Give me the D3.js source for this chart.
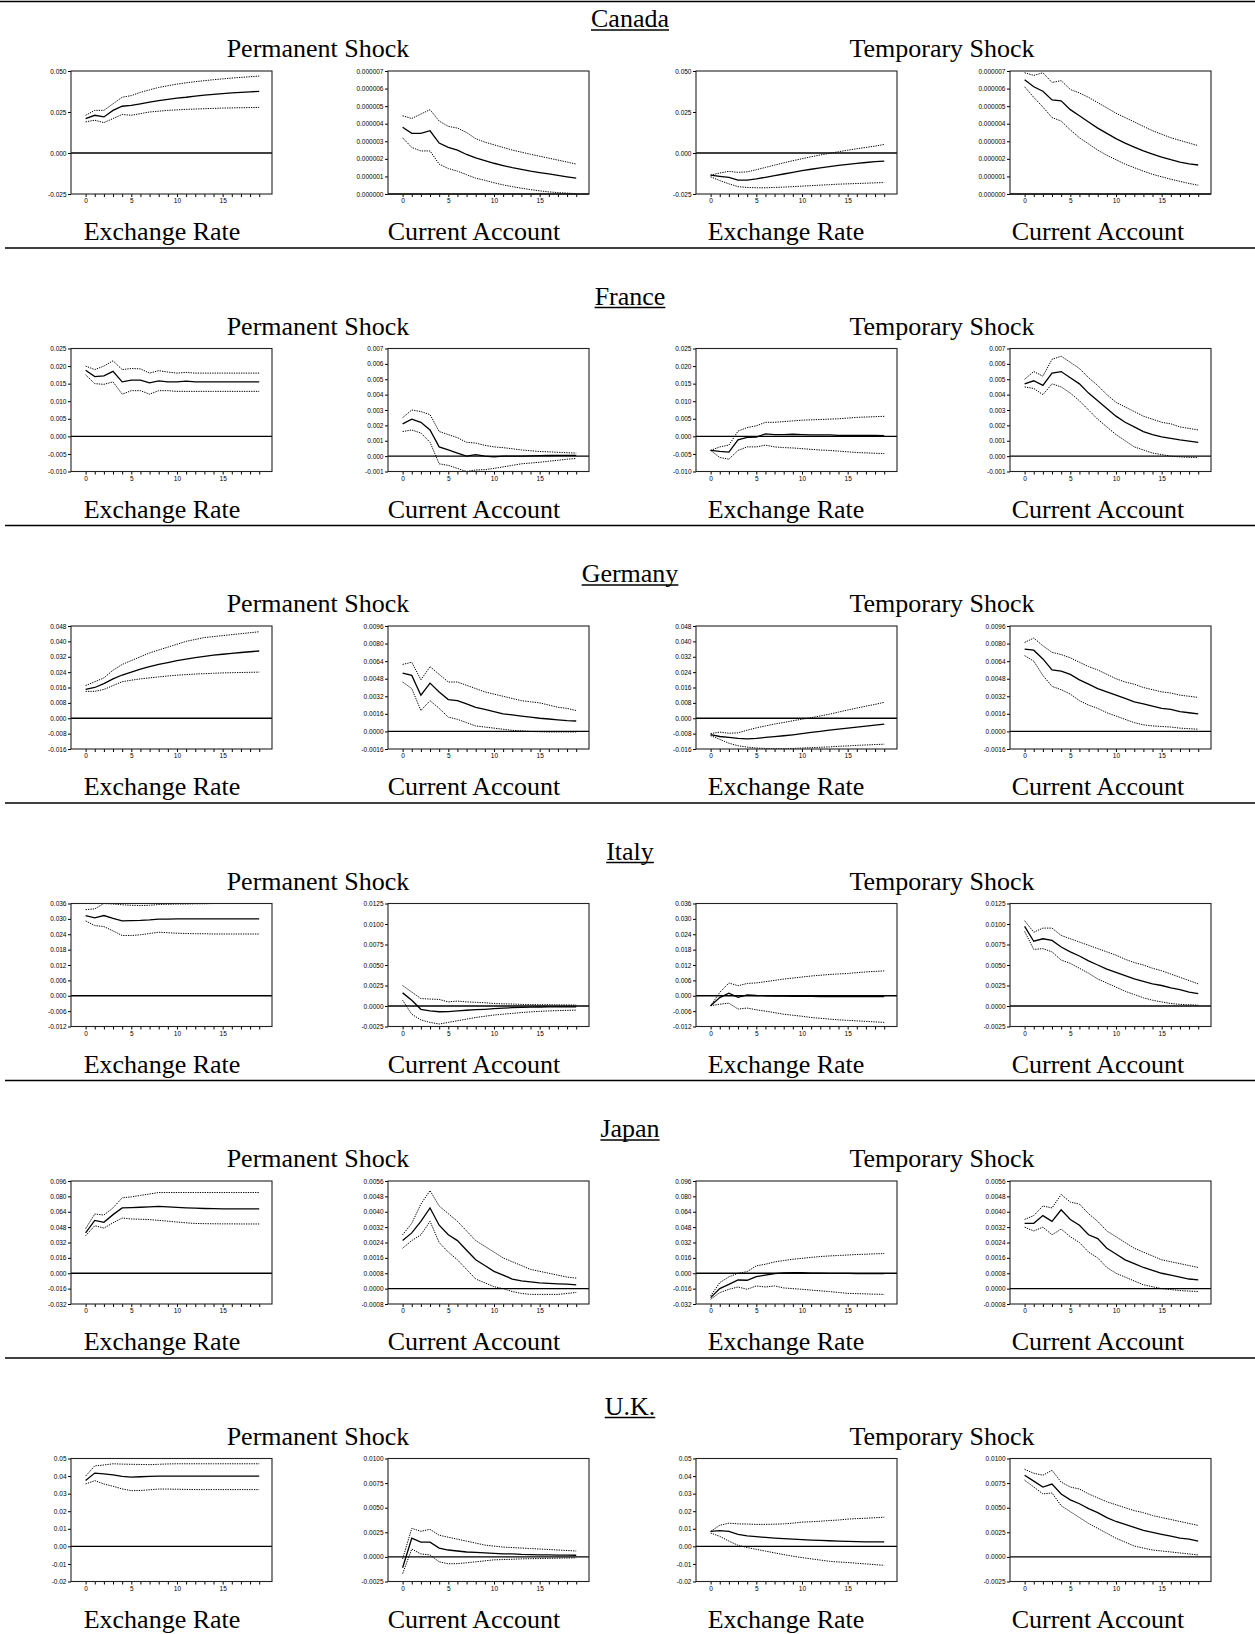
<!DOCTYPE html>
<html lang="en">
<head>
<meta charset="UTF-8">
<title>Impulse responses</title>
<script src="https://d3js.org/d3.v7.min.js"></script>
<style>
  body { margin: 0; background: #fff; }
  .big { font-family: "Liberation Serif", "Times New Roman", serif; font-size: 26px; fill: #000; }
  .tick text { font-family: "Liberation Sans", Arial, sans-serif; font-size: 6.5px; fill: #000; }
</style>
</head>
<body>
<div id="figure"></div>
<script>
const countries = ["Canada", "France", "Germany", "Italy", "Japan", "U.K."];
const shocks = ["Permanent Shock", "Temporary Shock"];
const variables = ["Exchange Rate", "Current Account"];
const horizons = [0, 1, 2, 3, 4, 5, 6, 7, 8, 9, 10, 11, 12, 13, 14, 15, 16, 17, 18, 19];
const xTickLabels = ["0", "5", "10", "15"];

// y tick labels, exchange rate / current account, per country
const canadaErTicks = ["-0.025", "0.000", "0.025", "0.050"];
const canadaCaTicks = ["0.000000", "0.000001", "0.000002", "0.000003", "0.000004", "0.000005", "0.000006", "0.000007"];
const franceErTicks = ["-0.010", "-0.005", "0.000", "0.005", "0.010", "0.015", "0.020", "0.025"];
const franceCaTicks = ["-0.001", "0.000", "0.001", "0.002", "0.003", "0.004", "0.005", "0.006", "0.007"];
const germanyErTicks = ["-0.016", "-0.008", "0.000", "0.008", "0.016", "0.024", "0.032", "0.040", "0.048"];
const germanyCaTicks = ["-0.0016", "0.0000", "0.0016", "0.0032", "0.0048", "0.0064", "0.0080", "0.0096"];
const italyErTicks = ["-0.012", "-0.006", "0.000", "0.006", "0.012", "0.018", "0.024", "0.030", "0.036"];
const italyCaTicks = ["-0.0025", "0.0000", "0.0025", "0.0050", "0.0075", "0.0100", "0.0125"];
const japanErTicks = ["-0.032", "-0.016", "0.000", "0.016", "0.032", "0.048", "0.064", "0.080", "0.096"];
const japanCaTicks = ["-0.0008", "0.0000", "0.0008", "0.0016", "0.0024", "0.0032", "0.0040", "0.0048", "0.0056"];
const ukErTicks = ["-0.02", "-0.01", "0.00", "0.01", "0.02", "0.03", "0.04", "0.05"];
const ukCaTicks = ["-0.0025", "0.0000", "0.0025", "0.0050", "0.0075", "0.0100"];

// Canada
const canPermErMid = [0.021, 0.023, 0.022, 0.026, 0.0285, 0.029, 0.030, 0.031, 0.032, 0.0327, 0.0335, 0.034, 0.0347, 0.0353, 0.0358, 0.0362, 0.0366, 0.037, 0.0373, 0.0376];
const canPermErHi = [0.023, 0.026, 0.026, 0.030, 0.034, 0.035, 0.037, 0.0385, 0.040, 0.041, 0.042, 0.0428, 0.0435, 0.0441, 0.0447, 0.0452, 0.0457, 0.0461, 0.0465, 0.0469];
const canPermErLo = [0.019, 0.020, 0.0185, 0.021, 0.0235, 0.023, 0.024, 0.025, 0.0255, 0.026, 0.0263, 0.0266, 0.0268, 0.027, 0.0272, 0.0274, 0.0275, 0.0276, 0.0277, 0.0278];
const canPermCaMid = [3.8e-6, 3.45e-6, 3.45e-6, 3.6e-6, 2.9e-6, 2.65e-6, 2.5e-6, 2.25e-6, 2.05e-6, 1.9e-6, 1.75e-6, 1.62e-6, 1.5e-6, 1.4e-6, 1.3e-6, 1.22e-6, 1.14e-6, 1.06e-6, 0.98e-6, 0.9e-6];
const canPermCaHi = [4.45e-6, 4.3e-6, 4.55e-6, 4.8e-6, 4.15e-6, 3.85e-6, 3.75e-6, 3.5e-6, 3.15e-6, 2.95e-6, 2.8e-6, 2.65e-6, 2.5e-6, 2.38e-6, 2.26e-6, 2.15e-6, 2.04e-6, 1.93e-6, 1.82e-6, 1.7e-6];
const canPermCaLo = [3.2e-6, 2.65e-6, 2.45e-6, 2.45e-6, 1.7e-6, 1.45e-6, 1.3e-6, 1.1e-6, 0.9e-6, 0.78e-6, 0.64e-6, 0.52e-6, 0.42e-6, 0.33e-6, 0.25e-6, 0.18e-6, 0.12e-6, 0.08e-6, 0.05e-6, 0.02e-6];
const canTempErMid = [-0.0135, -0.0142, -0.0148, -0.0165, -0.0166, -0.0158, -0.0148, -0.0138, -0.0128, -0.0118, -0.0108, -0.0099, -0.0091, -0.0083, -0.0076, -0.0069, -0.0063, -0.0058, -0.0053, -0.0049];
const canTempErHi = [-0.0135, -0.0122, -0.0112, -0.0118, -0.0115, -0.0102, -0.0088, -0.0074, -0.006, -0.0047, -0.0035, -0.0023, -0.0012, -0.0002, 0.0008, 0.0017, 0.0026, 0.0034, 0.0042, 0.0052];
const canTempErLo = [-0.0145, -0.0168, -0.0188, -0.0205, -0.021, -0.0212, -0.0212, -0.021, -0.0208, -0.0205, -0.0202, -0.0199, -0.0196, -0.0193, -0.019, -0.0188, -0.0186, -0.0184, -0.0182, -0.018];
const canTempCaMid = [6.5e-6, 6.1e-6, 5.85e-6, 5.35e-6, 5.3e-6, 4.8e-6, 4.45e-6, 4.1e-6, 3.75e-6, 3.45e-6, 3.15e-6, 2.9e-6, 2.67e-6, 2.45e-6, 2.27e-6, 2.1e-6, 1.95e-6, 1.82e-6, 1.72e-6, 1.65e-6];
const canTempCaHi = [6.9e-6, 6.75e-6, 6.9e-6, 6.35e-6, 6.45e-6, 5.95e-6, 5.75e-6, 5.5e-6, 5.2e-6, 4.9e-6, 4.6e-6, 4.35e-6, 4.1e-6, 3.85e-6, 3.6e-6, 3.4e-6, 3.2e-6, 3.05e-6, 2.9e-6, 2.75e-6];
const canTempCaLo = [6.1e-6, 5.5e-6, 4.95e-6, 4.35e-6, 4.15e-6, 3.65e-6, 3.2e-6, 2.85e-6, 2.5e-6, 2.2e-6, 1.95e-6, 1.7e-6, 1.5e-6, 1.3e-6, 1.12e-6, 0.98e-6, 0.84e-6, 0.72e-6, 0.6e-6, 0.5e-6];

// France
const fraPermErMid = [0.0188, 0.017, 0.0172, 0.0185, 0.0155, 0.016, 0.016, 0.0152, 0.0158, 0.0155, 0.0155, 0.0157, 0.0155, 0.0155, 0.0155, 0.0155, 0.0155, 0.0155, 0.0155, 0.0155];
const fraPermErHi = [0.020, 0.019, 0.020, 0.0215, 0.019, 0.0193, 0.0192, 0.018, 0.0187, 0.0183, 0.018, 0.0182, 0.018, 0.018, 0.018, 0.018, 0.018, 0.018, 0.018, 0.018];
const fraPermErLo = [0.0175, 0.015, 0.0148, 0.0155, 0.012, 0.013, 0.013, 0.012, 0.013, 0.013, 0.0128, 0.0128, 0.0128, 0.0128, 0.0128, 0.0128, 0.0128, 0.0128, 0.0128, 0.0128];
const fraPermCaMid = [0.0021, 0.0024, 0.0022, 0.0017, 0.0006, 0.0004, 0.0002, 0.0, 0.0001, 0.0, -0.00005, 0.0, 0.0, 0.0, 0.00002, 0.00003, 0.00004, 0.00005, 0.00005, 0.00005];
const fraPermCaHi = [0.0025, 0.0030, 0.0029, 0.0027, 0.0016, 0.0014, 0.0012, 0.0009, 0.00085, 0.0007, 0.0006, 0.00055, 0.00048, 0.0004, 0.00035, 0.0003, 0.00028, 0.00025, 0.00022, 0.0002];
const fraPermCaLo = [0.0016, 0.0017, 0.0015, 0.0009, -0.0005, -0.0006, -0.0008, -0.0010, -0.0009, -0.00088, -0.0008, -0.0007, -0.0006, -0.0005, -0.00045, -0.0004, -0.00033, -0.00027, -0.0002, -0.00015];
const fraTempErMid = [-0.004, -0.0043, -0.0045, -0.001, -0.0003, -0.0002, 0.0007, 0.0005, 0.0005, 0.0006, 0.0005, 0.0004, 0.0004, 0.0004, 0.0003, 0.0003, 0.0003, 0.0003, 0.0003, 0.0002];
const fraTempErHi = [-0.004, -0.003, -0.0025, 0.0015, 0.0025, 0.003, 0.004, 0.004, 0.0042, 0.0044, 0.0046, 0.0047, 0.0048, 0.0049, 0.005, 0.0052, 0.0054, 0.0055, 0.0056, 0.0057];
const fraTempErLo = [-0.004, -0.006, -0.0065, -0.004, -0.003, -0.003, -0.0025, -0.003, -0.0032, -0.0033, -0.0035, -0.0037, -0.0039, -0.004, -0.0042, -0.0044, -0.0046, -0.0047, -0.0048, -0.0049];
const fraTempCaMid = [0.0047, 0.0049, 0.0046, 0.0054, 0.0055, 0.0051, 0.0047, 0.0041, 0.0036, 0.0031, 0.0026, 0.0022, 0.0019, 0.0016, 0.0014, 0.00125, 0.00115, 0.00105, 0.00097, 0.0009];
const fraTempCaHi = [0.0050, 0.0055, 0.0052, 0.0063, 0.0065, 0.0061, 0.0057, 0.0051, 0.0046, 0.0040, 0.0035, 0.0032, 0.0029, 0.0026, 0.0024, 0.0022, 0.0021, 0.0019, 0.0018, 0.0017];
const fraTempCaLo = [0.0045, 0.0044, 0.0040, 0.0047, 0.0045, 0.0041, 0.0036, 0.0030, 0.0024, 0.0019, 0.0014, 0.0010, 0.0006, 0.0004, 0.0002, 0.0001, 0.0, -0.00005, -0.00008, -0.0001];

// Germany
const gerPermErMid = [0.015, 0.016, 0.018, 0.0205, 0.0225, 0.024, 0.0255, 0.0268, 0.028, 0.029, 0.030, 0.0308, 0.0316, 0.0322, 0.0328, 0.0333, 0.0338, 0.0342, 0.0346, 0.035];
const gerPermErHi = [0.017, 0.019, 0.021, 0.025, 0.028, 0.030, 0.032, 0.034, 0.0355, 0.037, 0.0385, 0.040, 0.041, 0.042, 0.0425, 0.043, 0.0435, 0.044, 0.0445, 0.045];
const gerPermErLo = [0.014, 0.014, 0.015, 0.017, 0.019, 0.0198, 0.0205, 0.021, 0.0215, 0.022, 0.0224, 0.0227, 0.023, 0.0232, 0.0234, 0.0236, 0.0237, 0.0238, 0.0239, 0.024];
const gerPermCaMid = [0.0053, 0.0051, 0.0033, 0.0044, 0.0036, 0.0029, 0.0028, 0.0025, 0.0022, 0.0020, 0.0018, 0.0016, 0.0015, 0.0014, 0.0013, 0.0012, 0.00113, 0.00105, 0.00098, 0.00095];
const gerPermCaHi = [0.0061, 0.0063, 0.0047, 0.0059, 0.0052, 0.0045, 0.0045, 0.0042, 0.0039, 0.0036, 0.0034, 0.0032, 0.0030, 0.0028, 0.0027, 0.0026, 0.0024, 0.0022, 0.0021, 0.0019];
const gerPermCaLo = [0.0045, 0.0039, 0.0019, 0.0028, 0.0021, 0.0013, 0.0011, 0.0008, 0.0005, 0.0004, 0.0003, 0.0002, 0.0001, 0.00005, 0.0, -0.00003, -0.00005, -0.00005, -0.00005, -0.00005];
const gerTempErMid = [-0.0085, -0.0095, -0.010, -0.0105, -0.0107, -0.0105, -0.010, -0.0096, -0.0091, -0.0086, -0.0080, -0.0074, -0.0068, -0.0062, -0.0057, -0.0051, -0.0046, -0.0041, -0.0036, -0.0031];
const gerTempErHi = [-0.008, -0.0072, -0.0078, -0.0076, -0.0062, -0.0050, -0.0040, -0.0030, -0.0022, -0.0013, -0.0005, 0.0003, 0.0012, 0.0021, 0.0032, 0.0043, 0.0053, 0.0063, 0.0072, 0.0083];
const gerTempErLo = [-0.009, -0.011, -0.013, -0.0143, -0.015, -0.0155, -0.0157, -0.0158, -0.0158, -0.0157, -0.0155, -0.0153, -0.0151, -0.0149, -0.0146, -0.0144, -0.0141, -0.0139, -0.0137, -0.0135];
const gerTempCaMid = [0.0075, 0.0074, 0.0066, 0.0056, 0.0055, 0.0052, 0.0047, 0.0043, 0.0039, 0.0036, 0.0033, 0.0030, 0.0027, 0.0025, 0.0023, 0.0021, 0.0020, 0.0018, 0.0017, 0.0016];
const gerTempCaHi = [0.0081, 0.0085, 0.0078, 0.0072, 0.0070, 0.0067, 0.0063, 0.0059, 0.0056, 0.0052, 0.0048, 0.0045, 0.0043, 0.0040, 0.0038, 0.0036, 0.0035, 0.0033, 0.0032, 0.0031];
const gerTempCaLo = [0.0069, 0.0064, 0.0051, 0.0041, 0.0038, 0.0034, 0.0028, 0.0024, 0.0021, 0.0017, 0.0014, 0.0011, 0.0008, 0.0006, 0.0005, 0.00045, 0.0004, 0.0003, 0.00025, 0.0002];

// Italy
const itaPermErMid = [0.0313, 0.0304, 0.0313, 0.0302, 0.0292, 0.0293, 0.0294, 0.0296, 0.0299, 0.0299, 0.030, 0.030, 0.030, 0.030, 0.030, 0.030, 0.030, 0.030, 0.030, 0.030];
const itaPermErHi = [0.0336, 0.0339, 0.036, 0.0358, 0.0355, 0.0353, 0.0352, 0.0353, 0.0356, 0.0357, 0.0358, 0.0358, 0.0359, 0.0359, 0.036, 0.036, 0.036, 0.036, 0.036, 0.036];
const itaPermErLo = [0.0292, 0.0274, 0.027, 0.0253, 0.0235, 0.0235, 0.0238, 0.0243, 0.0248, 0.0246, 0.0244, 0.0243, 0.0242, 0.0242, 0.0241, 0.0241, 0.0241, 0.0241, 0.0241, 0.0241];
const itaPermCaMid = [0.0016, 0.0007, -0.0004, -0.0006, -0.0007, -0.00068, -0.0006, -0.00052, -0.00045, -0.0004, -0.00033, -0.00027, -0.0002, -0.00017, -0.00014, -0.00012, -0.0001, -0.0001, -0.0001, -0.0001];
const itaPermCaHi = [0.0025, 0.0017, 0.0009, 0.00085, 0.0008, 0.0005, 0.0006, 0.0005, 0.00045, 0.0004, 0.0003, 0.00027, 0.00024, 0.0002, 0.00018, 0.00016, 0.00015, 0.00014, 0.00013, 0.00012];
const itaPermCaLo = [0.0007, -0.001, -0.0017, -0.002, -0.0022, -0.002, -0.0018, -0.0016, -0.0014, -0.00125, -0.0011, -0.001, -0.0009, -0.0008, -0.00072, -0.00065, -0.0006, -0.00056, -0.00053, -0.0005];
const itaTempErMid = [-0.0039, -0.0007, 0.001, -0.0006, 0.0003, 0.0001, 0.0, -0.0001, -0.0001, -0.0002, -0.0002, -0.0002, -0.0003, -0.0003, -0.0003, -0.0003, -0.0003, -0.0003, -0.0003, -0.0003];
const itaTempErHi = [-0.0039, 0.0013, 0.005, 0.0039, 0.0048, 0.005, 0.0055, 0.006, 0.0065, 0.0069, 0.0073, 0.0077, 0.008, 0.0083, 0.0085, 0.0087, 0.009, 0.0093, 0.0095, 0.0097];
const itaTempErLo = [-0.0039, -0.0033, -0.0029, -0.0052, -0.0048, -0.0055, -0.006, -0.0066, -0.0072, -0.0076, -0.008, -0.0085, -0.0088, -0.0091, -0.0094, -0.0096, -0.0098, -0.01, -0.0102, -0.0104];
const itaTempCaMid = [0.0097, 0.0079, 0.0082, 0.008, 0.0072, 0.0066, 0.0061, 0.0055, 0.005, 0.0045, 0.0041, 0.0037, 0.0033, 0.003, 0.0027, 0.0025, 0.0022, 0.002, 0.0017, 0.0015];
const itaTempCaHi = [0.0104, 0.009, 0.0095, 0.0095, 0.0086, 0.0082, 0.0078, 0.0074, 0.007, 0.0066, 0.0062, 0.0057, 0.0053, 0.005, 0.0046, 0.0043, 0.0039, 0.0035, 0.0031, 0.0027];
const itaTempCaLo = [0.0091, 0.0069, 0.007, 0.0066, 0.0056, 0.0052, 0.0046, 0.004, 0.0033, 0.0028, 0.0023, 0.0018, 0.0014, 0.001, 0.0007, 0.0005, 0.0003, 0.0002, 0.00015, 0.0001];

// Japan
const jpnPermErMid = [0.042, 0.055, 0.053, 0.061, 0.068, 0.0683, 0.0687, 0.069, 0.0695, 0.069, 0.0685, 0.068, 0.0677, 0.0674, 0.0672, 0.067, 0.067, 0.067, 0.067, 0.067];
const jpnPermErHi = [0.0465, 0.0616, 0.0606, 0.068, 0.0785, 0.0795, 0.081, 0.0825, 0.084, 0.084, 0.084, 0.084, 0.084, 0.084, 0.084, 0.084, 0.084, 0.084, 0.084, 0.084];
const jpnPermErLo = [0.039, 0.0495, 0.047, 0.0525, 0.0575, 0.0565, 0.0562, 0.0558, 0.055, 0.0542, 0.0533, 0.0525, 0.0518, 0.0516, 0.0515, 0.0514, 0.0514, 0.0513, 0.0513, 0.0513];
const jpnPermCaMid = [0.0025, 0.0029, 0.0035, 0.0042, 0.0033, 0.0028, 0.0025, 0.002, 0.0015, 0.0012, 0.0009, 0.0007, 0.0005, 0.0004, 0.00035, 0.0003, 0.00027, 0.00025, 0.00023, 0.0002];
const jpnPermCaHi = [0.0028, 0.0034, 0.0044, 0.0051, 0.0043, 0.0039, 0.0035, 0.003, 0.0025, 0.0022, 0.0019, 0.0016, 0.0014, 0.0012, 0.001, 0.0009, 0.0008, 0.0007, 0.0006, 0.00055];
const jpnPermCaLo = [0.0021, 0.0025, 0.0028, 0.0035, 0.0024, 0.0019, 0.0015, 0.001, 0.0005, 0.0003, 0.0001, 0.0, -0.00015, -0.00025, -0.0003, -0.0003, -0.0003, -0.0003, -0.00025, -0.0002];
const jpnTempErMid = [-0.0254, -0.016, -0.0115, -0.007, -0.0073, -0.0035, -0.002, -0.0003, 0.0003, 0.0007, 0.0005, 0.0002, 0.0, -0.0001, -0.0002, -0.0002, -0.0003, -0.0003, -0.0003, -0.0003];
const jpnTempErHi = [-0.0237, -0.0097, -0.0038, 0.0, 0.0017, 0.0077, 0.0094, 0.0118, 0.0132, 0.0146, 0.0155, 0.0165, 0.0174, 0.018, 0.0185, 0.019, 0.0195, 0.0198, 0.0202, 0.0205];
const jpnTempErLo = [-0.0271, -0.0202, -0.0167, -0.0143, -0.0167, -0.0132, -0.0143, -0.0132, -0.0153, -0.016, -0.0167, -0.0175, -0.0183, -0.0191, -0.02, -0.0209, -0.0212, -0.0215, -0.0218, -0.022];
const jpnTempCaMid = [0.0034, 0.0034, 0.0038, 0.0035, 0.0041, 0.0036, 0.0033, 0.0028, 0.0026, 0.0021, 0.0018, 0.0015, 0.0013, 0.0011, 0.00095, 0.0008, 0.0007, 0.0006, 0.0005, 0.00045];
const jpnTempCaHi = [0.0036, 0.0038, 0.0043, 0.0042, 0.0049, 0.0045, 0.0044, 0.0039, 0.0035, 0.003, 0.0027, 0.0024, 0.0021, 0.0019, 0.0017, 0.0015, 0.0014, 0.0013, 0.0012, 0.0011];
const jpnTempCaLo = [0.0032, 0.003, 0.0032, 0.0028, 0.0031, 0.0027, 0.0024, 0.0019, 0.0016, 0.0011, 0.0008, 0.0006, 0.0004, 0.0002, 0.0001, 0.0, -0.00005, -0.0001, -0.00013, -0.00015];

// U.K.
const ukPermErMid = [0.0375, 0.0417, 0.0413, 0.0407, 0.0398, 0.0394, 0.0396, 0.0398, 0.040, 0.040, 0.040, 0.040, 0.040, 0.040, 0.040, 0.040, 0.040, 0.040, 0.040, 0.040];
const ukPermErHi = [0.040, 0.0458, 0.0463, 0.047, 0.0468, 0.0467, 0.0466, 0.0465, 0.0467, 0.0469, 0.047, 0.047, 0.047, 0.047, 0.047, 0.047, 0.047, 0.047, 0.047, 0.047];
const ukPermErLo = [0.0355, 0.0374, 0.0355, 0.0342, 0.0327, 0.0317, 0.0318, 0.0322, 0.0326, 0.0326, 0.0325, 0.0324, 0.0323, 0.0323, 0.0323, 0.0323, 0.0323, 0.0323, 0.0323, 0.0323];
const ukPermCaMid = [-0.0011, 0.0019, 0.0015, 0.0015, 0.0009, 0.0007, 0.0006, 0.0005, 0.00045, 0.0004, 0.00035, 0.0003, 0.0003, 0.00025, 0.00023, 0.00021, 0.0002, 0.00019, 0.00018, 0.00017];
const ukPermCaHi = [-0.0002, 0.0029, 0.0026, 0.0028, 0.0022, 0.002, 0.0018, 0.0016, 0.0014, 0.0012, 0.0011, 0.001, 0.00095, 0.0009, 0.00085, 0.0008, 0.00075, 0.0007, 0.00065, 0.0006];
const ukPermCaLo = [-0.0017, 0.0008, 0.0003, 0.0002, -0.0005, -0.0007, -0.00068, -0.0006, -0.0005, -0.0004, -0.0003, -0.00027, -0.00024, -0.0002, -0.00018, -0.00017, -0.00015, -0.00013, -0.00011, -0.0001];
const ukTempErMid = [0.0085, 0.009, 0.0085, 0.0068, 0.006, 0.0055, 0.0051, 0.0047, 0.0044, 0.0041, 0.0038, 0.0036, 0.0034, 0.0032, 0.003, 0.0028, 0.0027, 0.0026, 0.0025, 0.0025];
const ukTempErHi = [0.0085, 0.012, 0.0132, 0.0128, 0.0127, 0.0125, 0.0125, 0.0126, 0.0128, 0.0132, 0.0138, 0.014, 0.0143, 0.0147, 0.015, 0.0155, 0.0158, 0.016, 0.0163, 0.0166];
const ukTempErLo = [0.0076, 0.0057, 0.003, 0.0006, -0.0007, -0.0017, -0.0027, -0.0037, -0.0047, -0.0056, -0.0064, -0.0071, -0.0078, -0.0085, -0.0089, -0.0092, -0.0096, -0.01, -0.0104, -0.0108];
const ukTempCaMid = [0.0083, 0.0077, 0.0071, 0.0074, 0.0064, 0.0058, 0.0054, 0.0049, 0.0045, 0.0040, 0.0036, 0.0033, 0.003, 0.0027, 0.0025, 0.0023, 0.0021, 0.0019, 0.0018, 0.0016];
const ukTempCaHi = [0.0089, 0.0085, 0.0083, 0.0088, 0.0076, 0.0071, 0.0069, 0.0064, 0.006, 0.0056, 0.0053, 0.005, 0.0047, 0.0045, 0.0042, 0.004, 0.0038, 0.0036, 0.0034, 0.0032];
const ukTempCaLo = [0.0078, 0.0071, 0.0064, 0.0065, 0.0052, 0.0046, 0.004, 0.0034, 0.0029, 0.0024, 0.0019, 0.0015, 0.0011, 0.0009, 0.0007, 0.0006, 0.0005, 0.0004, 0.0003, 0.0002];

// rows: [er ticks, ca ticks], then 4 panels of [lo, mid, hi]
const rows = [
    [canadaErTicks, canadaCaTicks, [[canPermErLo, canPermErMid, canPermErHi], [canPermCaLo, canPermCaMid, canPermCaHi], [canTempErLo, canTempErMid, canTempErHi], [canTempCaLo, canTempCaMid, canTempCaHi]]],
    [franceErTicks, franceCaTicks, [[fraPermErLo, fraPermErMid, fraPermErHi], [fraPermCaLo, fraPermCaMid, fraPermCaHi], [fraTempErLo, fraTempErMid, fraTempErHi], [fraTempCaLo, fraTempCaMid, fraTempCaHi]]],
    [germanyErTicks, germanyCaTicks, [[gerPermErLo, gerPermErMid, gerPermErHi], [gerPermCaLo, gerPermCaMid, gerPermCaHi], [gerTempErLo, gerTempErMid, gerTempErHi], [gerTempCaLo, gerTempCaMid, gerTempCaHi]]],
    [italyErTicks, italyCaTicks, [[itaPermErLo, itaPermErMid, itaPermErHi], [itaPermCaLo, itaPermCaMid, itaPermCaHi], [itaTempErLo, itaTempErMid, itaTempErHi], [itaTempCaLo, itaTempCaMid, itaTempCaHi]]],
    [japanErTicks, japanCaTicks, [[jpnPermErLo, jpnPermErMid, jpnPermErHi], [jpnPermCaLo, jpnPermCaMid, jpnPermCaHi], [jpnTempErLo, jpnTempErMid, jpnTempErHi], [jpnTempCaLo, jpnTempCaMid, jpnTempCaHi]]],
    [ukErTicks, ukCaTicks, [[ukPermErLo, ukPermErMid, ukPermErHi], [ukPermCaLo, ukPermCaMid, ukPermCaHi], [ukTempErLo, ukTempErMid, ukTempErHi], [ukTempCaLo, ukTempCaMid, ukTempCaHi]]]
];

let w = 1255, h = 1634;
let rowStep = 277.5;
let boxLeft = [71, 388, 696, 1010];
let boxW = 201, boxH = 123, boxTop = 71;
let shockX = [318, 942];
let labelX = [162, 474, 786, 1098];

let svg = d3.select("#figure").append("svg")
    .attr("width", w)
    .attr("height", h);

// top rule
svg.append("line")
    .attr("x1", 0).attr("x2", w)
    .attr("y1", 1.5).attr("y2", 1.5)
    .style("stroke", "black").style("stroke-width", 1.6);

rows.forEach((row, r) => {
    let y0 = r * rowStep;
    let g = svg.append("g");

    // country name, underlined
    let title = g.append("text")
        .attr("class", "big")
        .attr("x", 630).attr("y", y0 + 27)
        .attr("text-anchor", "middle")
        .text(countries[r]);
    let tw = title.node().getComputedTextLength();
    g.append("line")
        .attr("x1", 630 - tw / 2).attr("x2", 630 + tw / 2)
        .attr("y1", y0 + 30).attr("y2", y0 + 30)
        .style("stroke", "black").style("stroke-width", 1.3);

    shocks.forEach((s, k) => {
        g.append("text")
            .attr("class", "big")
            .attr("x", shockX[k]).attr("y", y0 + 57)
            .attr("text-anchor", "middle")
            .text(s);
    });

    row[2].forEach((series, p) => {
        let ticks = p % 2 === 0 ? row[0] : row[1];
        let tickVals = ticks.map(Number);
        let left = boxLeft[p];
        let top = y0 + boxTop;

        let x = d3.scaleLinear()
            .domain([-1.6, 20.4])
            .range([left, left + boxW]);
        let y = d3.scaleLinear()
            .domain([tickVals[0], tickVals[tickVals.length - 1]])
            .range([top + boxH, top]);

        let yAxis = d3.axisLeft(y)
            .tickValues(tickVals)
            .tickFormat((d, i) => ticks[i])
            .tickSize(3).tickSizeOuter(0).tickPadding(1.5);
        let xAxis = d3.axisBottom(x)
            .tickValues(horizons)
            .tickFormat(d => xTickLabels.indexOf(String(d)) >= 0 ? String(d) : "")
            .tickSize(3).tickSizeOuter(0).tickPadding(1.5);

        g.append("g")
            .attr("transform", "translate(" + left + ",0)")
            .call(yAxis)
            .call(a => a.select(".domain").remove());
        g.append("g")
            .attr("transform", "translate(0," + (top + boxH) + ")")
            .call(xAxis)
            .call(a => a.select(".domain").remove());

        // zero line
        g.append("line")
            .attr("x1", left).attr("x2", left + boxW)
            .attr("y1", y(0)).attr("y2", y(0))
            .style("stroke", "black").style("stroke-width", 1.3);

        let line = d3.line()
            .x((d, i) => x(horizons[i]))
            .y(d => y(d));

        series.forEach((vals, j) => {
            g.append("path")
                .attr("d", line(vals))
                .style("fill", "none")
                .style("stroke", "black")
                .style("stroke-width", j === 1 ? 1.3 : 1)
                .style("stroke-dasharray", j === 1 ? null : "1.3,1.1");
        });

        g.append("rect")
            .attr("x", left).attr("y", top)
            .attr("width", boxW).attr("height", boxH)
            .style("fill", "none")
            .style("stroke", "#222")
            .style("stroke-width", 1.1);

        g.append("text")
            .attr("class", "big")
            .attr("x", labelX[p]).attr("y", y0 + 240)
            .attr("text-anchor", "middle")
            .text(variables[p % 2]);
    });

    if (r < rows.length - 1) {
        svg.append("line")
            .attr("x1", 5).attr("x2", w)
            .attr("y1", y0 + 248).attr("y2", y0 + 248)
            .style("stroke", "black").style("stroke-width", 1.6);
    }
});
</script>
</body>
</html>
